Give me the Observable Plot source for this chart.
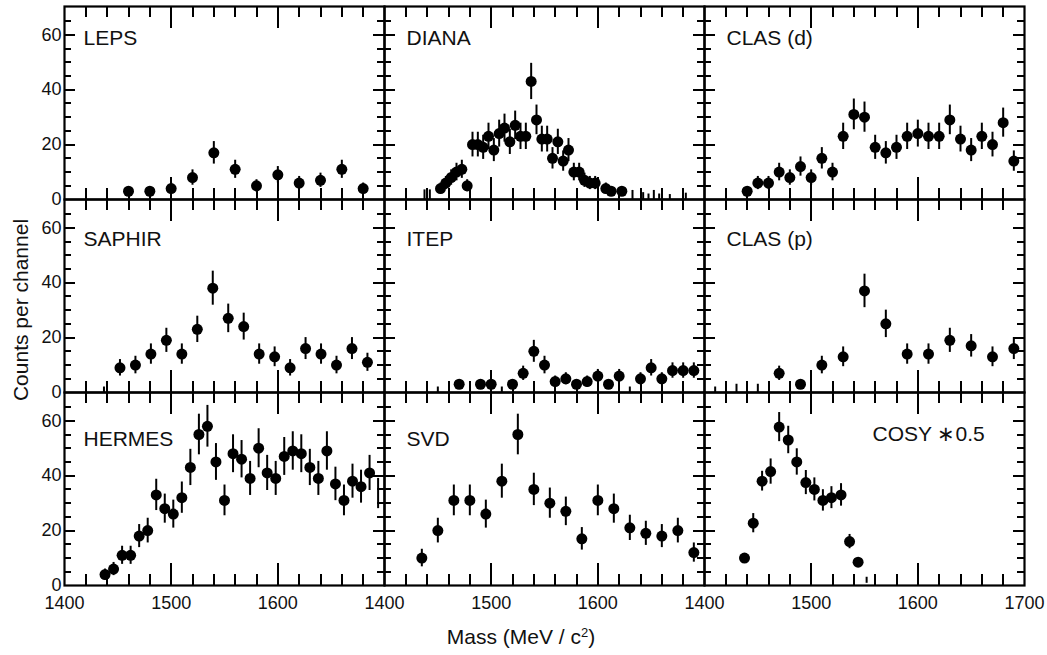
<!DOCTYPE html>
<html><head><meta charset="utf-8">
<script src="https://cdn.jsdelivr.net/npm/d3@7"></script>
<script src="https://cdn.jsdelivr.net/npm/@observablehq/plot@0.6"></script>
<style>
body{margin:0;background:#fff;}
#wrap{position:relative;width:1047px;height:655px;font-family:"Liberation Sans",Arial,Helvetica,sans-serif;color:#111;}
#wrap svg{position:absolute;left:0;top:0;}
#ytitle{position:absolute;left:21px;top:310px;transform:translate(-50%,-50%) rotate(-90deg);font-size:21px;white-space:nowrap;}
#xtitle{position:absolute;left:521px;top:637px;transform:translate(-50%,-50%);font-size:21px;white-space:nowrap;}
#xtitle sup{font-size:0.62em;vertical-align:0.55em;line-height:0;}
</style></head><body>
<div id="wrap"><div id="ytitle">Counts per channel</div><div id="xtitle">Mass (MeV / c<sup>2</sup>)</div></div>
<script>
// ---------- data ----------
const lepsMass   = [1460,1480,1500,1520,1540,1560,1580,1600,1620,1640,1660,1680];
const lepsCounts = [3,3,4,8,17,11,5,9,6,7,11,4];
const lepsErr    = [1.7,1.7,2,2.8,4.1,3.3,2.2,3,2.4,2.6,3.3,2];

const dianaMass   = [1452.5,1457.5,1462.5,1467.5,1472.5,1477.5,1482.5,1487.5,1492.5,1497.5,1502.5,1507.5,1512.5,1517.5,1522.5,1527.5,1532.5,1537.5,1542.5,1547.5,1552.5,1557.5,1562.5,1567.5,1572.5,1577.5,1582.5,1587.5,1592.5,1597.5,1607.5,1612.5,1622.5];
const dianaCounts = [4,6,8,10,11,5,20,20,19,23,18,24,26,21,27,23,23,43,29,22,22,15,21,14,18,10,10,7,6,6,4,3,3];
const dianaErr    = [2,2.4,2.8,3.2,3.3,2.2,4.5,4.5,4.4,4.8,4.2,4.9,5.1,4.6,5.2,4.8,4.8,6.6,5.4,4.7,4.7,3.9,4.6,3.7,4.2,3.2,3.2,2.6,2.4,2.4,2,1.7,1.7];
const dianaStubMass = [1437.5,1442.5,1632.5,1642.5,1647.5,1652.5,1657.5,1667.5,1682.5];
const dianaStubHi   = [3.5,3.5,3.3,2.5,2,3.3,2,1.8,2.3];

const clasdMass   = [1440,1450,1460,1470,1480,1490,1500,1510,1520,1530,1540,1550,1560,1570,1580,1590,1600,1610,1620,1630,1640,1650,1660,1670,1680,1690];
const clasdCounts = [3,6,6,10,8,12,8,15,10,23,31,30,19,17,19,23,24,23,23,29,22,18,23,20,28,14];
const clasdErr    = [1.7,2.4,2.4,3.2,2.8,3.5,2.8,3.9,3.2,4.8,5.6,5.5,4.4,4.1,4.4,4.8,4.9,4.8,4.8,5.4,4.7,4.2,4.8,4.5,5.3,3.7];

const saphirMass   = [1452,1466.5,1481,1495.5,1510,1524.5,1539,1553.5,1568,1582.5,1597,1611.5,1626,1640.5,1655,1669.5,1684];
const saphirCounts = [9,10,14,19,14,23,38,27,24,14,13,9,16,14,10,16,11];
const saphirErr    = [3,3.2,3.7,4.4,3.7,4.8,6.2,5.2,4.9,3.7,3.6,3,4,3.7,3.2,4,3.3];
const saphirStubMass = [1437];
const saphirStubHi   = [2];

const itepMass   = [1470,1490,1500,1520,1530,1540,1550,1560,1570,1580,1590,1600,1610,1620,1640,1650,1660,1670,1680,1690];
const itepCounts = [3,3,3,3,7,15,10,4,5,3,4,6,3,6,5,9,5,8,8,8];
const itepErr    = [1.7,1.7,1.7,1.7,2.6,4,3.2,2,2.2,1.7,2,2.4,1.7,2.4,2.2,3,2.2,2.8,2.8,2.8];
const itepStubMass = [1450,1510,1630];
const itepStubHi   = [2,2,2];

const claspMass   = [1470,1490,1510,1530,1550,1570,1590,1610,1630,1650,1670,1690];
const claspCounts = [7,3,10,13,37,25,14,14,19,17,13,16];
const claspErr    = [2.6,1.7,3.2,3.6,6.1,5,3.7,3.7,4.4,4.1,3.6,4];
const claspStubMass = [1410,1430,1450];
const claspStubHi   = [2,3,3];

const hermesMass   = [1438,1446,1454,1462,1470,1478,1486,1494,1502,1510,1518,1526,1534,1542,1550,1558,1566,1574,1582,1590,1598,1606,1614,1622,1630,1638,1646,1654,1662,1670,1678,1686];
const hermesCounts = [4,6,11,11,18,20,33,28,26,32,43,55,58,45,31,48,46,39,50,41,39,47,49,48,43,39,49,37,31,38,36,41];
const hermesErr    = [2,2.4,3.3,3.3,4.2,4.5,5.7,5.3,5.1,5.7,6.6,7.4,7.6,6.7,5.6,6.9,6.8,6.2,7.1,6.4,6.2,6.9,7,6.9,6.6,6.2,7,6.1,5.6,6.2,6,6.4];
const hermesStubMass = [1694];
const hermesStubLo   = [28];
const hermesStubHi   = [39];

const svdMass   = [1435,1450,1465,1480,1495,1510,1525,1540,1555,1570,1585,1600,1615,1630,1645,1660,1675,1690];
const svdCounts = [10,20,31,31,26,38,55,35,30,27,17,31,28,21,19,18,20,12];
const svdErr    = [3.2,4.5,5.6,5.6,5.1,6.2,7.4,5.9,5.5,5.2,4.1,5.6,5.3,4.6,4.4,4.2,4.5,3.5];

const cosyMass   = [1437.5,1445.7,1454,1462,1470,1478.5,1486.5,1495,1503,1511,1519,1528,1536,1544];
const cosyCounts = [10,22.7,38,41.5,57.7,53,45,37.5,35,31,32,33,16,8.5];
const cosyErr    = [1.5,3.5,3.6,4.6,5.3,5,4.8,4.4,4.2,3.9,4,4.1,2.6,1.6];
const cosyStubMass = [1552];
const cosyStubLo   = [0.8];
const cosyStubHi   = [3];

const panelNames = ["LEPS","DIANA","CLAS (d)","SAPHIR","ITEP","CLAS (p)","HERMES","SVD","COSY \u22170.5"];
const xTickLabels = [1400,1500,1600];
const xLastLabel = [1700];
const yTickLabels = [0,20,40,60];

// ---------- assembly ----------
const series = [
  [lepsMass,lepsCounts,lepsErr,[],[],[]],
  [dianaMass,dianaCounts,dianaErr,dianaStubMass,null,dianaStubHi],
  [clasdMass,clasdCounts,clasdErr,[],[],[]],
  [saphirMass,saphirCounts,saphirErr,saphirStubMass,null,saphirStubHi],
  [itepMass,itepCounts,itepErr,itepStubMass,null,itepStubHi],
  [claspMass,claspCounts,claspErr,claspStubMass,null,claspStubHi],
  [hermesMass,hermesCounts,hermesErr,hermesStubMass,hermesStubLo,hermesStubHi],
  [svdMass,svdCounts,svdErr,[],[],[]],
  [cosyMass,cosyCounts,cosyErr,cosyStubMass,cosyStubLo,cosyStubHi]
];
const points = [], stubs = [];
series.forEach(([m,c,e,sm,slo,shi],k) => {
  const col = k % 3, row = Math.floor(k / 3);
  m.forEach((v,i) => points.push({col,row,mass:v,count:c[i],lo:c[i]-e[i],hi:c[i]+e[i]}));
  sm.forEach((v,i) => stubs.push({col,row,mass:v,lo:slo?slo[i]:0,hi:shi[i]}));
});
const labels = panelNames.map((name,k) => ({name,col:k%3,row:Math.floor(k/3)}));

// ---------- layout / style ----------
const W = 1047, H = 655, ML = 64, MR = 23, MT = 6, MB = 70;
const YMAX = 70.3;
const rowH = (H - MT - MB) / 3, colW = (W - ML - MR) / 3;
const uy = YMAX / rowH, ux = 300 / colW;       // data units per pixel
const xMajor = [1500,1600];
const xMinor = d3.range(1420,1700,20).filter(v => v % 100 !== 0);
const yMajor = [20,40,60];
const yMinor = d3.range(5,70,5).filter(v => v % 20 !== 0);
const font = "'Liberation Sans', Arial, Helvetica, sans-serif";
const labelDy = [31.5, 40, 47];
const labelDx = [19, 22, 22];

// inward tick segments for every facet (all four sides)
const cells = d3.cross([0,1,2],[0,1,2]).map(([col,row]) => ({col,row}));
const xTickSegs = cells.flatMap(f => [
  ...xMajor.flatMap(v => [{...f,v,a:0,b:22*uy},{...f,v,a:YMAX-22*uy,b:YMAX}]),
  ...xMinor.flatMap(v => [{...f,v,a:0,b:11*uy},{...f,v,a:YMAX-11*uy,b:YMAX}])
]);
const yTickSegs = cells.flatMap(f => [
  ...yMajor.flatMap(v => [{...f,v,a:1400,b:1400+11*ux},{...f,v,a:1700-11*ux,b:1700}]),
  ...yMinor.flatMap(v => [{...f,v,a:1400,b:1400+7*ux},{...f,v,a:1700-7*ux,b:1700}])
]);

const marks = [
  Plot.ruleX(xTickSegs,{x:"v",y1:"a",y2:"b",fx:"col",fy:"row",stroke:"#000",strokeWidth:2,shapeRendering:"crispEdges"}),
  Plot.ruleY(yTickSegs,{y:"v",x1:"a",x2:"b",fx:"col",fy:"row",stroke:"#000",strokeWidth:2,shapeRendering:"crispEdges"}),
  // data
  Plot.ruleX(stubs,{x:"mass",y1:"lo",y2:"hi",fx:"col",fy:"row",stroke:"#000",strokeWidth:2}),
  Plot.ruleX(points,{x:"mass",y1:"lo",y2:"hi",fx:"col",fy:"row",stroke:"#000",strokeWidth:2}),
  Plot.dot(points,{x:"mass",y:"count",fx:"col",fy:"row",r:5.5,fill:"#000",stroke:"none"}),
  Plot.frame({stroke:"#000",strokeWidth:2.2}),
  // axes labels
  Plot.axisX({anchor:"bottom",ticks:xTickLabels,tickSize:0,tickPadding:11,tickFormat:"d",fontSize:18,label:null}),
  Plot.text(xLastLabel.map(v=>({v,col:2,row:2})),{x:"v",fx:"col",fy:"row",frameAnchor:"bottom",text:d=>String(d.v),lineAnchor:"top",dy:11,fontSize:18}),
  Plot.axisY({anchor:"left",ticks:yTickLabels,tickSize:0,tickPadding:3,tickFormat:"d",fontSize:18,label:null})
];
labels.forEach(l => {
  const isCosy = l.name.startsWith("COSY");
  marks.push(Plot.text([l],{fx:"col",fy:"row",text:"name",frameAnchor:"top-left",textAnchor:"start",lineAnchor:"middle",
    dx: isCosy ? 168 : labelDx[l.col], dy: isCosy ? 42 : labelDy[l.row], fontSize:21}));
});

const chart = Plot.plot({
  width:W, height:H,
  marginLeft:ML, marginRight:MR, marginTop:MT, marginBottom:MB,
  style:{fontFamily:font, color:"#111", background:"white", overflow:"visible"},
  x:{domain:[1400,1700]},
  y:{domain:[0,YMAX]},
  fx:{domain:[0,1,2],padding:0,axis:null},
  fy:{domain:[0,1,2],padding:0,axis:null},
  marks
});
document.getElementById("wrap").prepend(chart);
</script>
</body></html>
